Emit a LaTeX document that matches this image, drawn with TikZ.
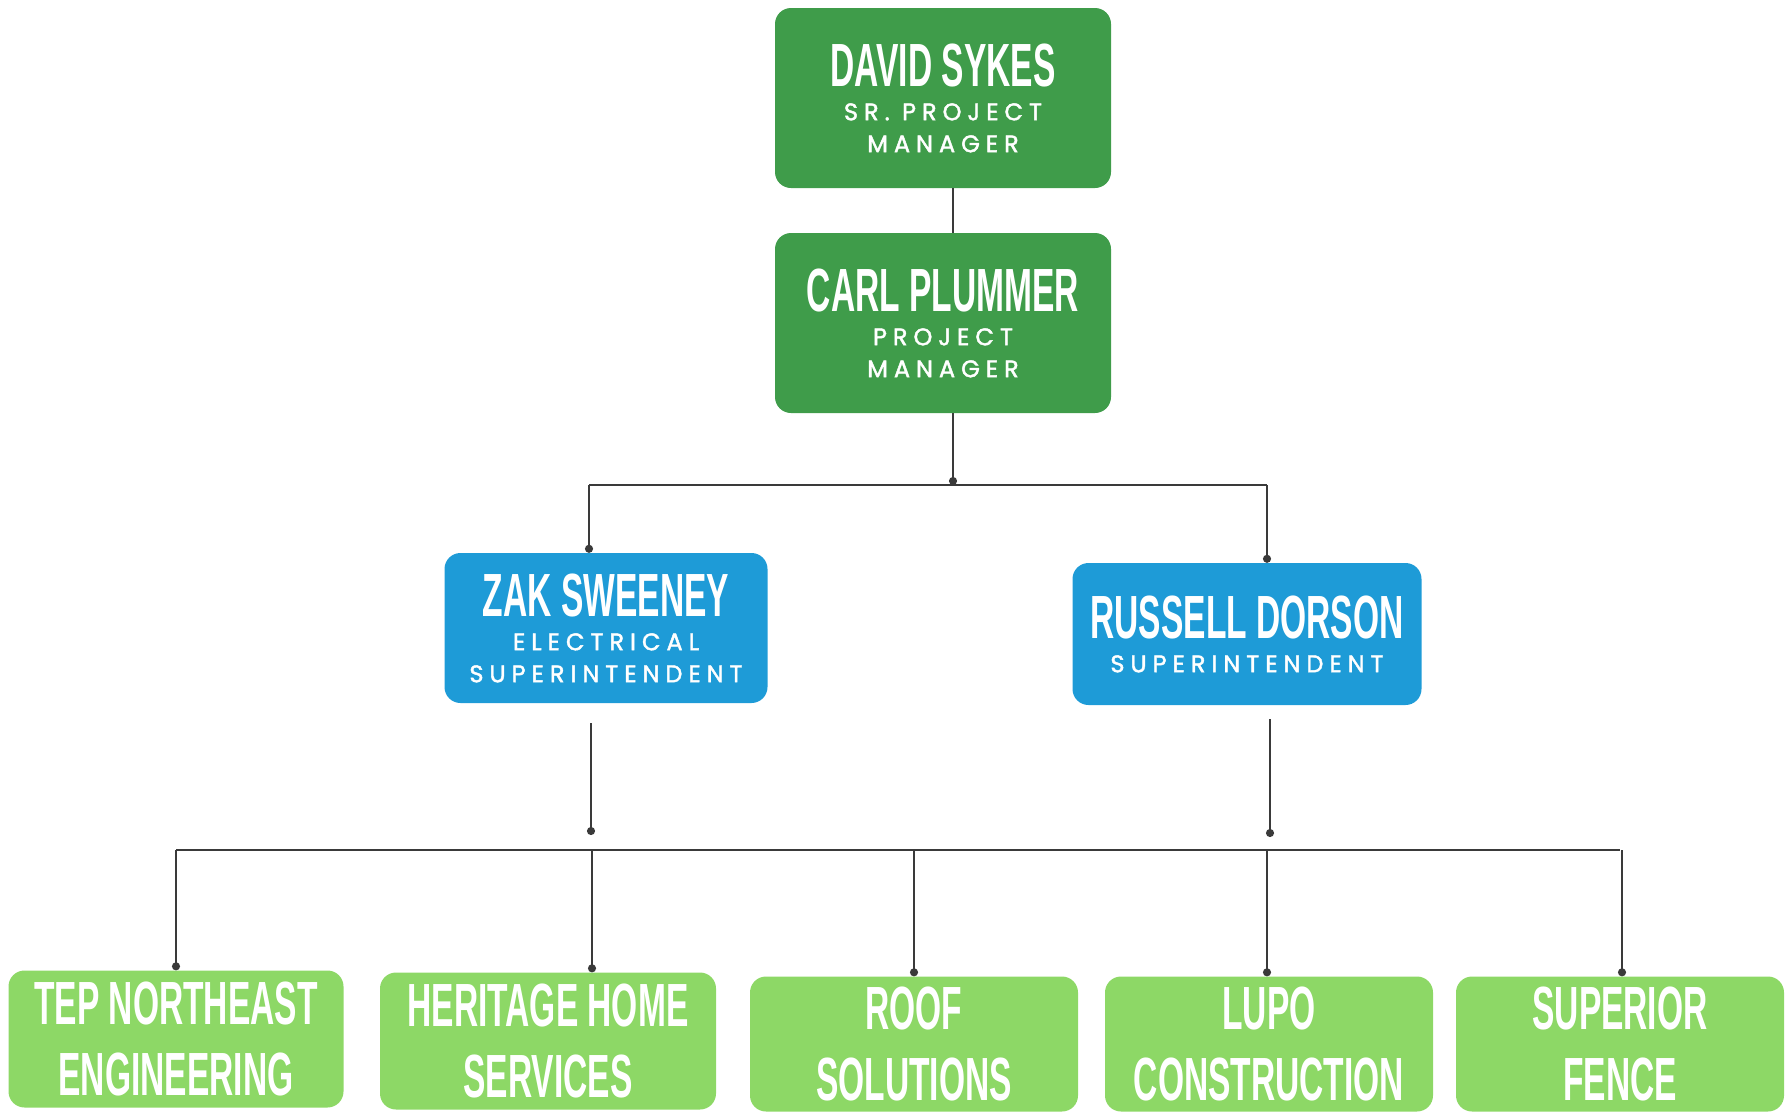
\documentclass[tikz,border=0pt]{standalone}
\usepackage{fontspec}
\usepackage{graphicx}
\usetikzlibrary{arrows.meta}

\newfontfamily\namefont{Liberation Sans}
\newfontfamily\rolefont{Poppins}[LetterSpace=25,FakeBold=1.8]

\definecolor{bossgreen}{HTML}{3F9C4A}
\definecolor{supblue}{HTML}{1E9BD7}
\definecolor{crewgreen}{HTML}{8DD866}
\definecolor{wirecol}{HTML}{3A3A3A}

\newcommand\squeeze[1]{\scalebox{0.55}[1]{#1}}
\newcommand\bigname[1]{{\namefont\bfseries\fontsize{61}{71}\selectfont\squeeze{#1}}}

\begin{document}
\begin{tikzpicture}[x=1pt,y=-1pt,
   box/.style={rounded corners=16pt,inner sep=0pt,align=center,text=white},
   boss/.style={box,fill=bossgreen,minimum width=336pt,minimum height=180pt,
      font=\rolefont\fontsize{24}{32}\selectfont},
   super/.style={box,fill=supblue,font=\rolefont\fontsize{24}{32}\selectfont},
   crew/.style={box,fill=crewgreen,minimum width=328pt,minimum height=135pt,
      font=\namefont\bfseries\fontsize{61}{71}\selectfont},
   wire/.style={draw=wirecol,line width=2pt},
   tipdot/.style={-{Circle[length=8pt]}}]
   \useasboundingbox (0,0) rectangle (1785,1111);

   % managers
   \node[boss] (david) at (943,98) {\bigname{DAVID SYKES}\\[2pt]SR. PROJECT\\MANAGER};
   \node[boss] (carl) at (943,323) {\bigname{CARL PLUMMER}\\[2pt]PROJECT\\MANAGER};

   % superintendents
   \node[super,minimum width=323pt,minimum height=150pt] (zak) at (606,628)
      {\bigname{ZAK SWEENEY}\\[2pt]ELECTRICAL\\SUPERINTENDENT};
   \node[super,minimum width=349pt,minimum height=142pt] (russell) at (1247,634)
      {\bigname{RUSSELL DORSON}\\[2pt]SUPERINTENDENT};

   % subcontractors
   \node[crew,minimum width=335pt,minimum height=137pt] (tep) at (176,1039)
      {\squeeze{TEP NORTHEAST}\\\squeeze{ENGINEERING}};
   \node[crew,minimum width=336pt,minimum height=137pt] (heritage) at (548,1041)
      {\squeeze{HERITAGE HOME}\\\squeeze{SERVICES}};
   \node[crew] (roof) at (914,1044) {\squeeze{ROOF}\\\squeeze{SOLUTIONS}};
   \node[crew] (lupo) at (1269,1044) {\squeeze{LUPO}\\\squeeze{CONSTRUCTION}};
   \node[crew] (superior) at (1620,1044) {\squeeze{SUPERIOR}\\\squeeze{FENCE}};

   % junction points
   \coordinate (hub) at (953,485);
   \coordinate (zakin) at (589,485);
   \coordinate (rusin) at (1267,485);
   \coordinate (zakout) at (591,835);
   \coordinate (rusout) at (1270,837);
   \coordinate (bus) at (0,850);

   \draw[wire] (david.south -| hub) -- (carl.north -| hub);
   \draw[wire,tipdot] (carl.south -| hub) -- (hub);
   \draw[wire] (zakin) -- (rusin);
   \draw[wire,tipdot] (zakin) -- (zakin |- zak.north);
   \draw[wire,tipdot] (rusin) -- (rusin |- russell.north);

   \draw[wire,tipdot,shorten <=20pt] (zak.south -| zakout) -- (zakout);
   \draw[wire,tipdot,shorten <=14pt] (russell.south -| rusout) -- (rusout);
   \draw[wire] (tep.north |- bus) -- (superior.north |- bus);
   \foreach \n/\dx in {tep/0,heritage/44,roof/0,lupo/-2,superior/2}
      \draw[wire,tipdot] ([xshift=\dx pt]\n.north |- bus) -- ([xshift=\dx pt]\n.north);
\end{tikzpicture}
\end{document}
